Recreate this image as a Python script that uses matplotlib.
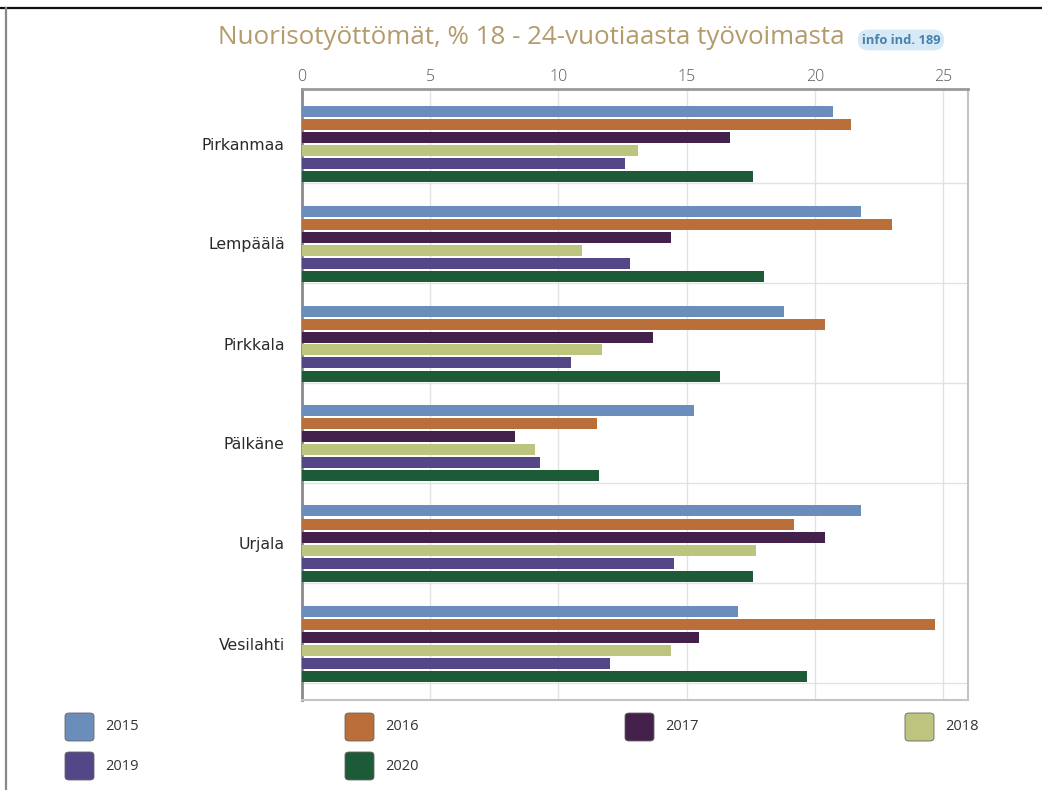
import matplotlib
matplotlib.use("Agg")
import matplotlib.pyplot as plt
from matplotlib.patches import FancyBboxPatch
from matplotlib.lines import Line2D
import numpy as np

# ---- data ----
categories = ["Pirkanmaa", "Lempäälä", "Pirkkala", "Pälkäne", "Urjala", "Vesilahti"]
years = ["2015", "2016", "2017", "2018", "2019", "2020"]
v2015 = [20.7, 21.8, 18.8, 15.3, 21.8, 17.0]
v2016 = [21.4, 23.0, 20.4, 11.5, 19.2, 24.7]
v2017 = [16.7, 14.4, 13.7, 8.3, 20.4, 15.5]
v2018 = [13.1, 10.9, 11.7, 9.1, 17.7, 14.4]
v2019 = [12.6, 12.8, 10.5, 9.3, 14.5, 12.0]
v2020 = [17.6, 18.0, 16.3, 11.6, 17.6, 19.7]
series = [v2015, v2016, v2017, v2018, v2019, v2020]
colors = ["#6a8dbb", "#ba6e39", "#44214b", "#bcc47d", "#544687", "#1d5a37"]
xticks = [0, 5, 10, 15, 20, 25]

FONT = ["Open Sans", "DejaVu Sans"]
plt.rcParams["font.family"] = FONT

W, H = 1042, 790
fig = plt.figure(figsize=(W / 100, H / 100), dpi=100)

def fx(px):
    return px / W

def fy(py):
    return 1 - py / H

# outer frame lines
fig.add_artist(Line2D([0, 1], [fy(8), fy(8)], color="#111111", lw=1.6, transform=fig.transFigure))
fig.add_artist(Line2D([fx(6), fx(6)], [fy(8), 0], color="#888888", lw=1.6, transform=fig.transFigure))

ax = fig.add_axes([fx(302), fy(700), fx(968) - fx(302), fy(89) - fy(700)])

y = np.arange(len(categories))
pitch = 0.13
bh = 0.11
for j, (vals, c) in enumerate(zip(series, colors)):
    ax.barh(y + (j - 2.5) * pitch, vals, height=bh, color=c, zorder=3)

ax.set_xlim(0, 25.97)
ax.set_ylim(5.565, -0.545)
ax.xaxis.tick_top()
ax.set_xticks(xticks)
ax.set_xticklabels([str(t) for t in xticks])
ax.tick_params(axis="x", length=0, pad=3, labelsize=11.5, labelcolor="#5a5a5a")
for lab in ax.get_xticklabels():
    lab.set_fontweight("light")
ax.set_yticks(y)
ax.set_yticklabels(categories, family=["DejaVu Sans"])
ax.tick_params(axis="y", length=0, pad=12.5, labelsize=11.3, labelcolor="#2a2a2a")
ax.set_yticks(y + 0.395, minor=True)
ax.tick_params(axis="y", which="minor", length=0)
ax.grid(axis="x", color="#e2e2e2", lw=1, zorder=0)
ax.grid(axis="y", which="minor", color="#e2e2e2", lw=1, zorder=0)
ax.grid(axis="y", which="major", visible=False)

ax.spines["top"].set_color("#9a9a9a")
ax.spines["top"].set_linewidth(2)
ax.spines["left"].set_color("#8a8a8a")
ax.spines["left"].set_linewidth(2)
ax.spines["right"].set_color("#c4c4c4")
ax.spines["right"].set_linewidth(1.5)
ax.spines["bottom"].set_color("#c4c4c4")
ax.spines["bottom"].set_linewidth(1.5)

# title
fig.text(fx(531), fy(38), "Nuorisotyöttömät, % 18 - 24-vuotiaasta työvoimasta",
         ha="center", va="center", fontsize=18.7, color="#b39b6c")
fig.text(fx(901), fy(40), "info ind. 189", ha="center", va="center", fontsize=9.3,
         fontweight="bold", color="#4a80aa",
         bbox=dict(boxstyle="round,pad=0.3,rounding_size=0.8", fc="#d5e9f6", ec="none"))

# legend
col_x = [65, 345, 625, 905]
row_y = [713, 752]
for i, (yr, c) in enumerate(zip(years, colors)):
    r, k = divmod(i, 4)
    x0 = col_x[k]
    y0 = row_y[r]
    p = FancyBboxPatch((fx(x0), fy(y0 + 28)), fx(29), 28 / H,
                       boxstyle="round,pad=0,rounding_size=0.004",
                       fc=c, ec="#666666", lw=0.6, transform=fig.transFigure)
    fig.add_artist(p)
    fig.text(fx(x0 + 40), fy(y0 + 14), yr, ha="left", va="center", fontsize=10.5, color="#333333")

fig.savefig("out.png", dpi=100)
